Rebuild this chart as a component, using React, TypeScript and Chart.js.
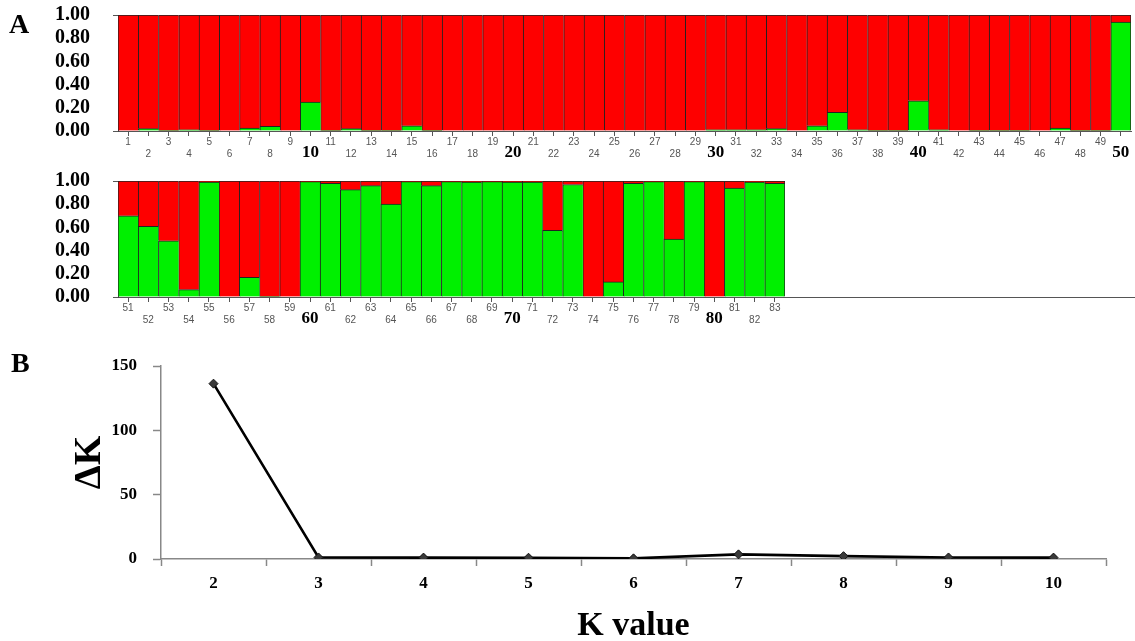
import React, { useEffect, useRef } from 'react';
import { Chart, registerables } from 'chart.js';
Chart.register(...registerables);

const SERIF = "'Liberation Serif', 'Times New Roman', serif";
const SANS = "'Liberation Sans', Arial, sans-serif";

// Panel A, row 1: samples 1-50
const samplesRow1 = ['1','2','3','4','5','6','7','8','9','10','11','12','13','14','15','16','17','18','19','20','21','22','23','24','25','26','27','28','29','30','31','32','33','34','35','36','37','38','39','40','41','42','43','44','45','46','47','48','49','50'];
const greenRow1 = [0, 0.02, 0.005, 0.01, 0.005, 0, 0.025, 0.04, 0, 0.25,
  0.005, 0.02, 0.005, 0.005, 0.045, 0.005, 0, 0, 0, 0,
  0, 0, 0, 0, 0, 0, 0, 0, 0, 0.01,
  0.01, 0.01, 0.02, 0, 0.045, 0.16, 0.01, 0.005, 0.005, 0.26,
  0.01, 0, 0.005, 0.005, 0.005, 0, 0.025, 0.005, 0.005, 0.94];
const redRow1 = [1, 0.98, 0.995, 0.99, 0.995, 1, 0.975, 0.96, 1, 0.75,
  0.995, 0.98, 0.995, 0.995, 0.955, 0.995, 1, 1, 1, 1,
  1, 1, 1, 1, 1, 1, 1, 1, 1, 0.99,
  0.99, 0.99, 0.98, 1, 0.955, 0.84, 0.99, 0.995, 0.995, 0.74,
  0.99, 1, 0.995, 0.995, 0.995, 1, 0.975, 0.995, 0.995, 0.06];

// Panel A, row 2: samples 51-83
const samplesRow2 = ['51','52','53','54','55','56','57','58','59','60','61','62','63','64','65','66','67','68','69','70','71','72','73','74','75','76','77','78','79','80','81','82','83'];
const greenRow2 = [0.70, 0.61, 0.485, 0.064, 0.99, 0, 0.17, 0.005, 0, 0.995,
  0.98, 0.925, 0.96, 0.80, 0.995, 0.96, 0.995, 0.99, 0.995, 0.99,
  0.99, 0.575, 0.97, 0, 0.13, 0.98, 0.995, 0.50, 0.995, 0,
  0.94, 0.99, 0.98];
const redRow2 = [0.30, 0.39, 0.515, 0.936, 0.01, 1, 0.83, 0.995, 1, 0.005,
  0.02, 0.075, 0.04, 0.20, 0.005, 0.04, 0.005, 0.01, 0.005, 0.01,
  0.01, 0.425, 0.03, 1, 0.87, 0.02, 0.005, 0.50, 0.005, 1,
  0.06, 0.01, 0.02];

const yTicksA = [0, 0.2, 0.4, 0.6, 0.8, 1.0];

// Panel B
const kValues = ['2','3','4','5','6','7','8','9','10'];
const deltaK = [136.3, 1.2, 1.1, 1.0, 0.5, 3.6, 2.2, 1.2, 1.1];

const GREEN = 'rgb(0,240,0)';
const RED = 'rgb(254,0,0)';
const BAR_BORDER = '#222';

function barConfig(labels: string[], green: number[], red: number[], rightPad: number, extendAxis: boolean): any {
  const n = labels.length;
  const bw = (ctx: any) => ({ top: 1, left: 1, bottom: 0, right: ctx.dataIndex === n - 1 ? 1 : 0 });
  const axisExt = {
    id: 'axisExt',
    afterDraw(chart: any) {
      if (!extendAxis) return;
      const { ctx, chartArea } = chart;
      ctx.save();
      ctx.strokeStyle = '#555';
      ctx.lineWidth = 1;
      ctx.beginPath();
      ctx.moveTo(chartArea.right, Math.round(chartArea.bottom) + 0.5);
      ctx.lineTo(chart.width, Math.round(chartArea.bottom) + 0.5);
      ctx.stroke();
      ctx.restore();
    },
  };
  return {
    type: 'bar',
    data: {
      labels,
      datasets: [
        { data: green, backgroundColor: GREEN, borderColor: BAR_BORDER, borderWidth: bw, borderSkipped: false, barPercentage: 1, categoryPercentage: 1 },
        { data: red, backgroundColor: RED, borderColor: BAR_BORDER, borderWidth: bw, borderSkipped: false, barPercentage: 1, categoryPercentage: 1 },
      ],
    },
    plugins: [axisExt],
    options: {
      responsive: false,
      animation: false,
      layout: { padding: { left: 10, right: rightPad, top: 15, bottom: 0 } },
      plugins: { legend: { display: false }, tooltip: { enabled: false } },
      scales: {
        x: {
          stacked: true,
          offset: true,
          afterFit: (s: any) => { s.height = 34; },
          border: { display: true, color: '#555', width: 1 },
          grid: { display: true, drawOnChartArea: false, offset: false, tickLength: 5, tickColor: '#555' },
          ticks: {
            autoSkip: false,
            maxRotation: 0,
            minRotation: 0,
            padding: 0,
            callback: (_v: any, i: number) => {
              const lab = labels[i];
              return Number(lab) % 2 === 1 ? [lab] : ['', lab];
            },
            color: (ctx: any) => (Number(labels[ctx.index]) % 10 === 0 ? '#000' : '#555'),
            font: (ctx: any) => Number(labels[ctx.index]) % 10 === 0
              ? { family: SERIF, size: 17, weight: 'bold', lineHeight: '11px' }
              : { family: SANS, size: 10, lineHeight: '12px' },
          },
        },
        y: {
          stacked: true,
          min: 0,
          max: 1,
          afterFit: (s: any) => { s.width = 108; s.paddingTop = 10; s.paddingBottom = 10; },
          afterBuildTicks: (s: any) => { s.ticks = yTicksA.map((v) => ({ value: v })); },
          border: { display: true, color: '#444' },
          grid: {
            display: true,
            drawOnChartArea: false,
            tickLength: 5,
            tickColor: (ctx: any) => (ctx.index === 0 || ctx.index === yTicksA.length - 1 ? '#555' : 'rgba(0,0,0,0)'),
          },
          ticks: {
            autoSkip: false,
            padding: 23,
            color: '#000',
            font: { family: SERIF, size: 20, weight: 'bold', lineHeight: 1 },
            callback: (v: any) => Number(v).toFixed(2),
          },
        },
      },
    },
  };
}

function lineConfig(): any {
  return {
    type: 'line',
    data: {
      labels: kValues,
      datasets: [{
        data: deltaK,
        borderColor: '#000',
        borderWidth: 2.6,
        tension: 0,
        fill: false,
        pointStyle: 'rectRot',
        pointRadius: 4.5,
        pointBackgroundColor: '#3a3a3a',
        pointBorderColor: '#111',
        pointBorderWidth: 1,
      }],
    },
    options: {
      responsive: false,
      animation: false,
      layout: { padding: { left: 72, right: 29, top: 36, bottom: 0 } },
      plugins: { legend: { display: false }, tooltip: { enabled: false } },
      scales: {
        x: {
          offset: true,
          afterFit: (s: any) => { s.height = 82; },
          border: { display: true, color: '#888', width: 1.5 },
          grid: { display: true, drawOnChartArea: false, offset: true, tickLength: 7, tickColor: '#888', tickWidth: 1.5 },
          ticks: { padding: 7, color: '#000', font: { family: SERIF, size: 17, weight: 'bold' } },
          title: {
            display: true,
            text: 'K value',
            color: '#000',
            font: { family: SERIF, size: 34, weight: 'bold', lineHeight: '30px' },
            padding: { top: 0, bottom: 0 },
          },
        },
        y: {
          min: 0,
          max: 150,
          afterFit: (s: any) => { s.width = 89; },
          border: { display: true, color: '#888', width: 1.5 },
          grid: { display: true, drawOnChartArea: false, tickLength: 8, tickColor: '#888', tickWidth: 1.5 },
          ticks: { stepSize: 50, padding: 16, color: '#000', font: { family: SERIF, size: 17, weight: 'bold' } },
          title: {
            display: true,
            text: 'ΔK',
            color: '#000',
            font: { family: SERIF, size: 38, weight: 'bold', lineHeight: '36px' },
            padding: { top: 0, bottom: 0 },
          },
        },
      },
    },
  };
}

function ChartCanvas({ config, top, height }: { config: () => any; top: number; height: number }) {
  const ref = useRef<HTMLCanvasElement | null>(null);
  useEffect(() => {
    if (!ref.current) return;
    const chart = new Chart(ref.current, config());
    return () => chart.destroy();
  }, []);
  return (
    <canvas
      ref={ref}
      width={1135}
      height={height}
      style={{ position: 'absolute', left: 0, top, width: 1135, height }}
    />
  );
}

const panelLetter: React.CSSProperties = {
  position: 'absolute',
  fontFamily: SERIF,
  fontWeight: 'bold',
  fontSize: 28,
  lineHeight: '28px',
  color: '#000',
};

export default function App() {
  return (
    <div style={{ position: 'fixed', left: 0, top: 0, width: 1135, height: 641, background: '#fff', overflow: 'hidden' }}>
      <ChartCanvas config={() => barConfig(samplesRow1, greenRow1, redRow1, 4, false)} top={0} height={165} />
      <ChartCanvas config={() => barConfig(samplesRow2, greenRow2, redRow2, 350, true)} top={166} height={165} />
      <ChartCanvas config={lineConfig} top={330} height={311} />
      <div style={{ ...panelLetter, left: 9, top: 10 }}>A</div>
      <div style={{ ...panelLetter, left: 11, top: 349 }}>B</div>
    </div>
  );
}
